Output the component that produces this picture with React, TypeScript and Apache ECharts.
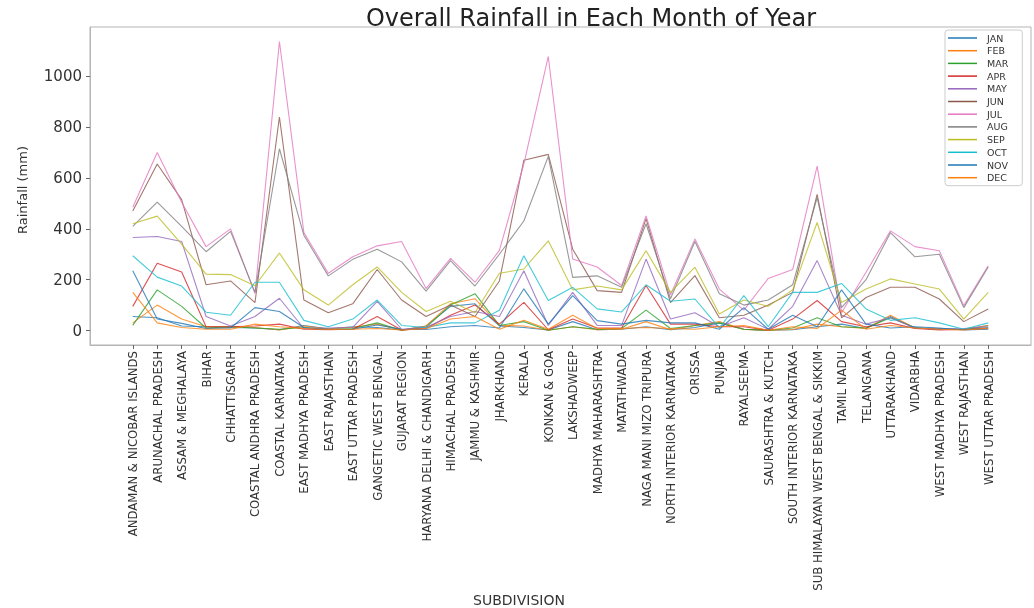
import React, { useEffect, useRef } from "react";
import * as echarts from "echarts";

const subdivisions = [
  "ANDAMAN & NICOBAR ISLANDS", "ARUNACHAL PRADESH", "ASSAM & MEGHALAYA", "BIHAR", "CHHATTISGARH",
  "COASTAL ANDHRA PRADESH", "COASTAL KARNATAKA", "EAST MADHYA PRADESH", "EAST RAJASTHAN", "EAST UTTAR PRADESH",
  "GANGETIC WEST BENGAL", "GUJARAT REGION", "HARYANA DELHI & CHANDIGARH", "HIMACHAL PRADESH", "JAMMU & KASHMIR",
  "JHARKHAND", "KERALA", "KONKAN & GOA", "LAKSHADWEEP", "MADHYA MAHARASHTRA",
  "MATATHWADA", "NAGA MANI MIZO TRIPURA", "NORTH INTERIOR KARNATAKA", "ORISSA", "PUNJAB",
  "RAYALSEEMA", "SAURASHTRA & KUTCH", "SOUTH INTERIOR KARNATAKA", "SUB HIMALAYAN WEST BENGAL & SIKKIM", "TAMIL NADU",
  "TELANGANA", "UTTARAKHAND", "VIDARBHA", "WEST MADHYA PRADESH", "WEST RAJASTHAN", "WEST UTTAR PRADESH",
];

const months = ["JAN", "FEB", "MAR", "APR", "MAY", "JUN", "JUL", "AUG", "SEP", "OCT", "NOV", "DEC"];

const JAN = [55, 50, 18, 15, 12, 10, 3, 20, 7, 15, 12, 2, 18, 95, 105, 18, 12, 2, 35, 3, 5, 15, 3, 12, 30, 5, 1, 3, 15, 25, 8, 55, 10, 8, 4, 20];
const FEB = [30, 100, 45, 15, 15, 12, 2, 18, 6, 13, 25, 1, 18, 105, 125, 20, 18, 1, 15, 3, 5, 35, 3, 20, 35, 4, 1, 4, 25, 15, 8, 60, 10, 5, 5, 20];
const MAR = [20, 160, 95, 10, 15, 10, 5, 12, 4, 8, 30, 1, 12, 100, 145, 20, 35, 1, 15, 5, 8, 80, 8, 20, 30, 5, 1, 10, 50, 15, 10, 50, 12, 4, 4, 12];
const APR = [95, 265, 230, 15, 15, 18, 25, 5, 3, 5, 55, 2, 8, 60, 100, 25, 111, 3, 45, 10, 10, 177, 25, 25, 15, 15, 1, 45, 118, 35, 15, 30, 8, 2, 4, 8];
const MAY = [366, 370, 350, 55, 18, 55, 127, 8, 10, 12, 115, 5, 13, 55, 75, 55, 235, 20, 150, 20, 20, 281, 45, 70, 15, 50, 5, 95, 275, 60, 25, 50, 10, 5, 8, 15];
const JUN = [470, 655, 515, 180, 195, 110, 840, 120, 70, 105, 240, 120, 55, 100, 55, 195, 670, 693, 320, 157, 150, 440, 110, 216, 50, 60, 100, 150, 536, 50, 130, 170, 170, 124, 35, 85];
const JUL = [485, 700, 505, 330, 400, 145, 1137, 385, 225, 290, 333, 350, 165, 284, 190, 315, 655, 1078, 281, 250, 177, 451, 140, 360, 163, 80, 205, 240, 647, 70, 229, 392, 330, 314, 98, 255];
const AUG = [410, 505, 410, 310, 390, 150, 715, 375, 215, 280, 320, 270, 155, 275, 175, 300, 431, 685, 209, 215, 170, 420, 125, 350, 145, 100, 120, 180, 523, 90, 200, 385, 290, 300, 90, 250];
const SEP = [420, 450, 340, 222, 220, 176, 305, 160, 100, 180, 250, 150, 75, 115, 70, 225, 242, 353, 160, 175, 160, 314, 150, 249, 65, 120, 95, 160, 425, 110, 163, 203, 183, 163, 45, 150];
const OCT = [294, 210, 175, 72, 60, 190, 190, 40, 15, 45, 120, 20, 12, 30, 30, 80, 294, 118, 170, 85, 73, 180, 115, 124, 10, 137, 15, 150, 150, 185, 85, 40, 50, 30, 5, 30];
const NOV = [235, 45, 28, 8, 10, 90, 75, 12, 4, 5, 22, 5, 4, 15, 20, 10, 164, 25, 137, 39, 25, 40, 30, 30, 5, 90, 5, 60, 15, 160, 25, 10, 15, 10, 2, 5];
const DEC = [150, 30, 12, 5, 5, 25, 15, 8, 4, 5, 8, 2, 7, 45, 55, 5, 40, 5, 60, 8, 8, 12, 8, 5, 15, 20, 1, 15, 8, 80, 5, 20, 10, 5, 2, 8];

const monthValues = [JAN, FEB, MAR, APR, MAY, JUN, JUL, AUG, SEP, OCT, NOV, DEC];

const colors = ["#1f77b4", "#ff7f0e", "#2ca02c", "#d62728", "#9467bd", "#8c564b", "#e377c2", "#7f7f7f", "#bcbd22", "#17becf", "#1f77b4", "#ff7f0e"];

const yTicks = [0, 200, 400, 600, 800, 1000];

export default function App() {
  const ref = useRef<HTMLDivElement>(null);
  useEffect(() => {
    if (!ref.current) return;
    const chart = echarts.init(ref.current, null, { renderer: "svg" });
    const idx = subdivisions.map((_, i) => i);
    chart.setOption({
      animation: false,
      color: colors,
      grid: { left: 90, right: 3, top: 27, bottom: 263, show: true, borderColor: "#b5b5b5", borderWidth: 1 },
      xAxis: {
        type: "value",
        min: -1.75,
        max: 36.75,
        axisLine: { show: true, onZero: false, lineStyle: { color: "#b5b5b5" } },
        axisTick: { show: true, customValues: idx, length: 4, lineStyle: { color: "#666" } },
        axisLabel: {
          customValues: idx,
          formatter: (v: number) => subdivisions[Math.round(v)] ?? "",
          rotate: 90,
          fontSize: 13,
          fontFamily: "DejaVu Sans Condensed",
          color: "#333",
          margin: 6,
        },
        splitLine: { show: false },
      },
      yAxis: {
        type: "value",
        min: -57,
        max: 1194,
        axisLine: { show: true, onZero: false, lineStyle: { color: "#b5b5b5" } },
        axisTick: { show: true, customValues: yTicks, length: 4, lineStyle: { color: "#666" } },
        axisLabel: {
          customValues: yTicks,
          formatter: (v: number) => String(v),
          fontSize: 15,
          fontFamily: "DejaVu Sans",
          color: "#333",
          margin: 8,
        },
        splitLine: { show: false },
      },
      legend: {
        data: months,
        orient: "vertical",
        left: 945,
        top: 30,
        icon: "rect",
        itemWidth: 29,
        itemHeight: 1.5,
        itemGap: 2.7,
        backgroundColor: "rgba(255,255,255,0.85)",
        borderColor: "#cccccc",
        borderWidth: 1,
        borderRadius: 3,
        padding: [3, 14, 3, 3],
        textStyle: { fontSize: 9.5, lineHeight: 10, color: "#333", fontFamily: "DejaVu Sans", padding: [0, 0, 0, 5] },
      },
      graphic: [
        {
          type: "text",
          x: 591,
          y: 18,
          style: {
            text: "Overall Rainfall in Each Month of Year",
            fontSize: 24,
            fontFamily: "DejaVu Sans",
            fill: "#222",
            textAlign: "center",
            textVerticalAlign: "middle",
          },
        },
        {
          type: "text",
          x: 22,
          y: 190,
          rotation: Math.PI / 2,
          style: {
            text: "Rainfall (mm)",
            fontSize: 13,
            fontFamily: "DejaVu Sans",
            fill: "#333",
            textAlign: "center",
            textVerticalAlign: "middle",
          },
        },
        {
          type: "text",
          x: 519,
          y: 600,
          style: {
            text: "SUBDIVISION",
            fontSize: 14,
            fontFamily: "DejaVu Sans",
            fill: "#333",
            textAlign: "center",
            textVerticalAlign: "middle",
          },
        },
      ],
      series: monthValues.map((vals, m) => ({
        type: "line",
        name: months[m],
        data: vals.map((v, i) => [i, v]),
        symbol: "none",
        lineStyle: { width: 1.1, opacity: 0.8, color: colors[m] },
        itemStyle: { color: colors[m] },
      })),
    });
    return () => chart.dispose();
  }, []);
  return <div ref={ref} style={{ position: "fixed", left: 0, top: 0, width: 1034, height: 608 }} />;
}
